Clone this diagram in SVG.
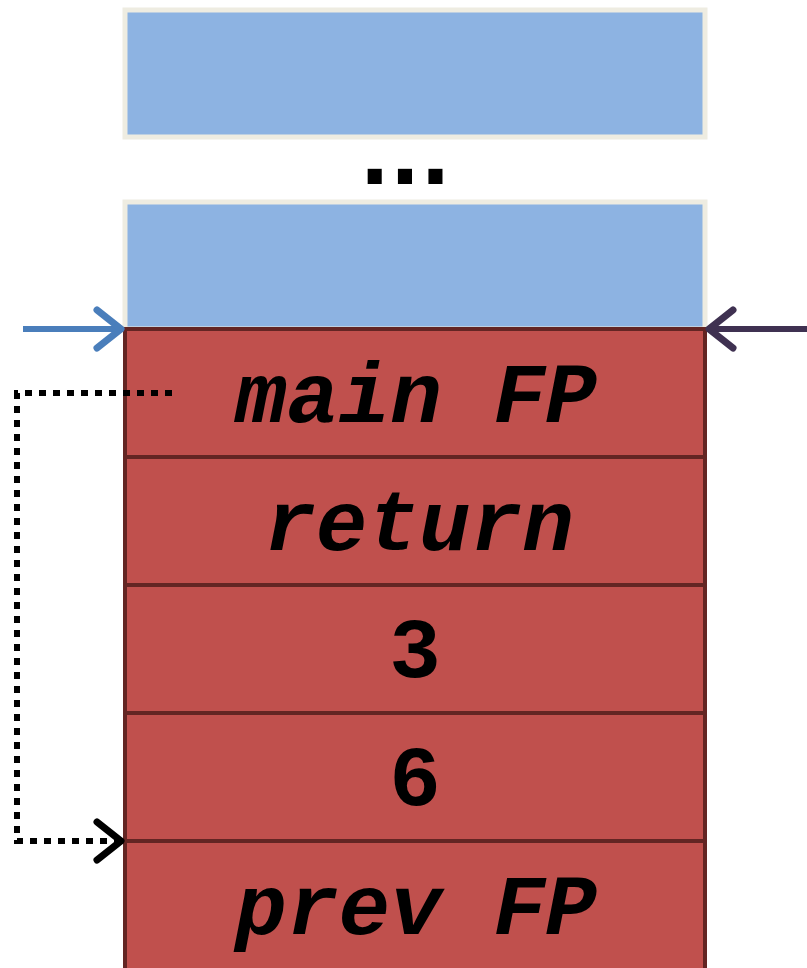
<svg xmlns="http://www.w3.org/2000/svg" width="807" height="968" viewBox="0 0 807 968">
<style>
.blue{fill:#8DB3E2;stroke:#EEECE1;stroke-width:5}
.red{fill:#C0504D;stroke:#632523;stroke-width:4}
.t{font-family:"Liberation Mono","Courier New",monospace;font-weight:bold;font-size:86px;text-anchor:middle;fill:#000}
.i{font-style:italic}
</style>
<rect width="807" height="968" fill="#fff"/>
<g id="block1"><rect class="blue" x="125" y="10" width="580" height="127"/></g>
<g id="ellipsis"><text x="405" y="184" font-family="DejaVu Sans,sans-serif" font-weight="bold" font-size="80" text-anchor="middle">...</text></g>
<g id="block2"><rect class="blue" x="125" y="202" width="580" height="127"/></g>
<g id="mainFP"><rect class="red" x="125" y="329" width="580" height="128"/><text class="t i" x="416" y="422">main FP</text></g>
<g id="return"><rect class="red" x="125" y="457" width="580" height="128"/><text class="t i" x="419" y="550">return</text></g>
<g id="three"><rect class="red" x="125" y="585" width="580" height="128"/><text class="t" x="415" y="677">3</text></g>
<g id="six"><rect class="red" x="125" y="713" width="580" height="128"/><text class="t" x="415" y="805">6</text></g>
<g id="prevFP"><rect class="red" x="125" y="841" width="580" height="130"/><text class="t i" x="416" y="934">prev FP</text></g>
<g id="connectors" fill="none" stroke-linecap="round" stroke-linejoin="round">
<path d="M23 329H120" stroke="#4A7EBB" stroke-width="6" stroke-linecap="butt"/>
<path d="M97 310L121 329L97 348" stroke="#4A7EBB" stroke-width="7"/>
<path d="M807 329H710" stroke="#3F3151" stroke-width="6" stroke-linecap="butt"/>
<path d="M733 310L709 329L733 348" stroke="#3F3151" stroke-width="7"/>
<path d="M172 393H17V841H118" stroke="#000" stroke-width="6" stroke-dasharray="7,7" stroke-linecap="butt" stroke-linejoin="miter"/>
<path d="M97 822L121 841L97 860" stroke="#000" stroke-width="7"/>
</g>
</svg>
